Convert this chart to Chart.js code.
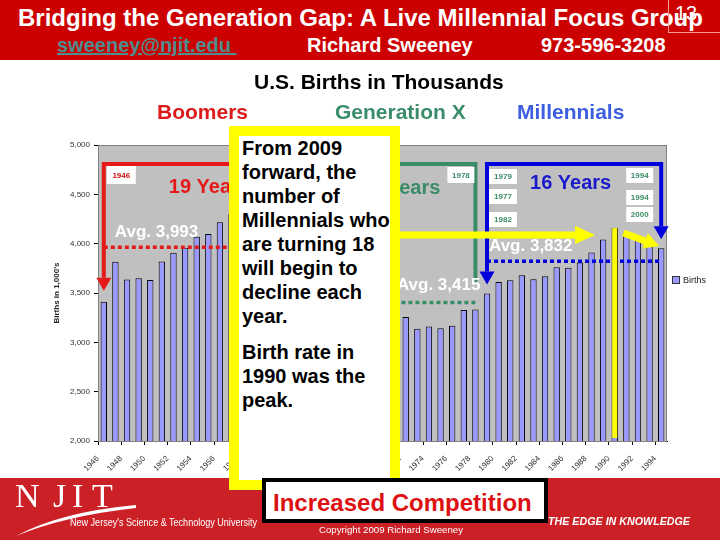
<!DOCTYPE html>
<html>
<head>
<meta charset="utf-8">
<script src="https://cdn.jsdelivr.net/npm/chart.js@4.4.1/dist/chart.umd.min.js"></script>
<style>
  body { margin: 0; background: #fff; font-family: "Liberation Sans", Arial, sans-serif; }
  #slide { position: relative; width: 720px; height: 540px; overflow: hidden; }
  #chart { position: absolute; left: 0; top: 0; }
  .t { position: absolute; white-space: nowrap; line-height: 1; }
  .b { font-weight: bold; }
  #header { position: absolute; left: 0; top: 0; width: 720px; height: 60px; background: #cc0000; }
  #footer { position: absolute; left: 0; top: 478px; width: 720px; height: 62px; background: #cc2027; }
  #note { position: absolute; left: 229px; top: 126px; width: 171px; height: 364px; box-sizing: border-box;
          border: 10px solid #ffff00; background: #fff; font-weight: bold; font-size: 20px; line-height: 24px;
          padding-left: 3px; white-space: nowrap; color: #000; }
  #note p { margin: 0; }
  #note p + p { margin-top: 12px; }
  #compete { position: absolute; left: 262px; top: 478px; width: 286px; height: 45px; box-sizing: border-box;
             border: 4px solid #000; background: #fff; }
</style>
</head>
<body>
<div id="slide">
  <canvas id="chart" width="720" height="540"></canvas>

  <div id="header">
    <div class="t b" style="left:18px; top:6px; font-size:24px; color:#fff;">Bridging the Generation Gap: A Live Millennial Focus Group</div>
    <div class="t b" style="left:57px; top:35px; font-size:20px; color:#4f8c8c; text-decoration:underline;">sweeney@njit.edu&nbsp;</div>
    <div class="t b" style="left:307px; top:35px; font-size:20px; color:#fff;">Richard Sweeney</div>
    <div class="t b" style="left:541px; top:35px; font-size:20px; color:#fff;">973-596-3208</div>
    <div style="position:absolute; left:668px; top:-1px; width:60px; height:32px; border:1px solid #ff9a9a;"></div>
    <div class="t" style="left:675px; top:3px; font-size:20px; color:#fff;">13</div>
  </div>

  <div class="t b" style="left:254px; top:71px; font-size:21px; color:#000;">U.S. Births in Thousands</div>
  <div class="t b" style="left:157px; top:101px; font-size:21px; color:#dd1a1a;">Boomers</div>
  <div class="t b" style="left:335px; top:101px; font-size:21px; color:#3a8c6a;">Generation X</div>
  <div class="t b" style="left:517px; top:101px; font-size:21px; color:#3d5ee0;">Millennials</div>

  <div id="footer">
    <div class="t" style="left:15px; top:1px; font-family:'Liberation Serif',serif; font-size:34px; color:#fff;">N</div>
    <div class="t" style="left:53px; top:1px; font-family:'Liberation Serif',serif; font-size:34px; color:#fff;">J</div>
    <div class="t" style="left:72px; top:1px; font-family:'Liberation Serif',serif; font-size:34px; color:#fff;">I</div>
    <div class="t" style="left:92px; top:1px; font-family:'Liberation Serif',serif; font-size:34px; color:#fff;">T</div>
    <svg style="position:absolute; left:0; top:0;" width="160" height="62">
      <path d="M16 58 Q60 34 136 27 L136 30 Q64 38 16 58 Z" fill="#fff"/>
    </svg>
    <div class="t fit" data-w="187" style="left:70px; top:40px; font-size:10px; color:#fff;">New Jersey's Science &amp; Technology University</div>
    <div class="t b fit" data-w="142" style="left:548px; top:38px; font-size:11px; font-style:italic; color:#fff;">THE EDGE IN KNOWLEDGE</div>
    <div class="t fit" data-w="144" style="left:319px; top:48px; font-size:9px; color:#fff;">Copyright 2009 Richard Sweeney</div>
  </div>

  <div id="note">
    <p>From 2009<br>forward, the<br>number of<br>Millennials who<br>are turning 18<br>will begin to<br>decline each<br>year.</p>
    <p>Birth rate in<br>1990 was the<br>peak.</p>
  </div>

  <div id="compete">
    <div class="t b" style="left:7px; top:9px; font-size:24px; color:#dd1111;">Increased Competition</div>
  </div>
</div>

<script>
// years on the category axis
const years = ['1946','1947','1948','1949','1950','1951','1952','1953','1954','1955',
  '1956','1957','1958','1959','1960','1961','1962','1963','1964','1965',
  '1966','1967','1968','1969','1970','1971','1972','1973','1974','1975',
  '1976','1977','1978','1979','1980','1981','1982','1983','1984','1985',
  '1986','1987','1988','1989','1990','1991','1992','1993','1994'];
// births in thousands
const births = [3411, 3817, 3637, 3649, 3632, 3820, 3909, 3959, 4071, 4097,
  4218, 4300, 4255, 4245, 4258, 4268, 4167, 4098, 4027, 3760,
  3606, 3521, 3502, 3600, 3731, 3556, 3258, 3137, 3160, 3144,
  3168, 3327, 3333, 3494, 3612, 3629, 3681, 3639, 3669, 3761,
  3757, 3809, 3910, 4041, 4158, 4111, 4065, 4000, 3953];
const tickLabels = ['1946','1948','1950','1952','1954','1956','1958','1960','1962','1964','1966',
  '1968','1970','1972','1974','1976','1978','1980','1982','1984','1986','1988','1990','1992','1994'];
const yMin = 2000, yMax = 5000, yStep = 500;

// generations
const genSpans = [['1946','1964'], ['1965','1978'], ['1979','1994']];
const genYears = ['19 Years', '14 Years', '16 Years'];
const genAvgs = [3993, 3415, 3832];
const genAvgText = ['Avg. 3,993', 'Avg. 3,415', 'Avg. 3,832'];
const boomLabels = ['1946'];
const genXLabels = ['1978'];
const milStartLabels = ['1979', '1977', '1982'];
const milEndLabels = ['1994', '1994', '2000'];
const peakYear = '1990';

const RED = '#e61919', GREEN = '#3a8c66', BLUE = '#0000dd', YEL = '#ffff00';

Chart.defaults.font.family = '"Liberation Sans", Arial, sans-serif';

function arrow(ctx, x0, y0, x1, y1, color, w, headW, headL) {
  const ang = Math.atan2(y1 - y0, x1 - x0);
  const bx = x1 - Math.cos(ang) * headL, by = y1 - Math.sin(ang) * headL;
  ctx.strokeStyle = color; ctx.lineWidth = w; ctx.lineCap = 'butt';
  ctx.beginPath(); ctx.moveTo(x0, y0); ctx.lineTo(bx, by); ctx.stroke();
  const nx = -Math.sin(ang) * headW / 2, ny = Math.cos(ang) * headW / 2;
  ctx.fillStyle = color;
  ctx.beginPath(); ctx.moveTo(bx + nx, by + ny); ctx.lineTo(bx - nx, by - ny); ctx.lineTo(x1, y1); ctx.closePath(); ctx.fill();
}

function yearBox(ctx, x, y, w, h, text, color) {
  ctx.fillStyle = '#fff';
  ctx.fillRect(x, y, w, h);
  ctx.fillStyle = color;
  ctx.font = 'bold 8px "Liberation Sans", Arial, sans-serif';
  ctx.textAlign = 'center'; ctx.textBaseline = 'middle';
  ctx.fillText(text, x + w / 2, y + h / 2 + 0.5);
}

const annotations = {
  id: 'annotations',
  beforeDatasetsDraw(c) {
    const a = c.chartArea, ctx = c.ctx;
    ctx.save();
    ctx.fillStyle = '#c0c0c0';
    ctx.fillRect(a.left, a.top, a.right - a.left, a.bottom - a.top);
    ctx.strokeStyle = '#808080'; ctx.lineWidth = 1;
    ctx.strokeRect(a.left + 0.5, a.top + 0.5, a.right - a.left - 1, a.bottom - a.top);
    ctx.restore();
  },
  afterDatasetsDraw(c) {
    const ctx = c.ctx, a = c.chartArea, xs = c.scales.x, ys = c.scales.y;
    const X = yr => xs.getPixelForValue(years.indexOf(yr));
    const V = yr => births[years.indexOf(yr)];
    const T = a.top + 19;
    const colors = [RED, GREEN, BLUE];
    ctx.save();

    // brackets
    genSpans.forEach((s, i) => {
      const x0 = X(s[0]), x1 = X(s[1]);
      ctx.strokeStyle = colors[i]; ctx.lineWidth = 4; ctx.lineJoin = 'miter';
      ctx.beginPath(); ctx.moveTo(x0, T); ctx.lineTo(x1, T); ctx.stroke();
    });
    arrow(ctx, X('1946'), T - 2, X('1946'), ys.getPixelForValue(V('1946')) - 11, RED, 4, 15, 13);
    ctx.strokeStyle = GREEN; ctx.lineWidth = 4;
    ctx.beginPath(); ctx.moveTo(X('1978'), T - 2); ctx.lineTo(X('1978'), a.top + 137); ctx.stroke();
    arrow(ctx, X('1979'), T - 2, X('1979'), ys.getPixelForValue(V('1979')) - 9, BLUE, 4, 15, 13);
    arrow(ctx, X('1994'), T - 2, X('1994'), ys.getPixelForValue(V('1994')) - 9, BLUE, 4, 15, 13);

    // averages
    genSpans.forEach((s, i) => {
      const y = ys.getPixelForValue(genAvgs[i]) + (i === 0 ? 3 : 1);
      ctx.strokeStyle = colors[i]; ctx.lineWidth = 3.5; ctx.setLineDash([4, 3]);
      ctx.beginPath(); ctx.moveTo(X(s[0]), y); ctx.lineTo(X(s[1]), y); ctx.stroke();
      ctx.setLineDash([]);
      ctx.fillStyle = '#fff';
      ctx.font = 'bold 17px "Liberation Sans", Arial, sans-serif';
      ctx.textBaseline = 'middle';
      if (i === 1) { ctx.textAlign = 'right'; ctx.fillText(genAvgText[i], X(s[1]) + 5, y - 17); }
      else { ctx.textAlign = 'left'; ctx.fillText(genAvgText[i], X(s[0]) + (i === 0 ? 11 : 2), y - 15); }
    });

    // year spans
    ctx.font = 'bold 20px "Liberation Sans", Arial, sans-serif';
    ctx.textBaseline = 'middle';
    ctx.fillStyle = RED; ctx.textAlign = 'left';
    ctx.fillText(genYears[0], X('1946') + 65, a.top + 42);
    ctx.fillStyle = GREEN; ctx.textAlign = 'right';
    ctx.fillText(genYears[1], X('1978') - 35, a.top + 43);
    ctx.fillStyle = '#1a1acc'; ctx.textAlign = 'left';
    ctx.fillText(genYears[2], X('1979') + 43, a.top + 38);

    // year boxes
    boomLabels.forEach(t => yearBox(ctx, X('1946') + 3, a.top + 21, 29, 18, t, '#cc1111'));
    genXLabels.forEach(t => yearBox(ctx, X('1978') - 28, a.top + 22, 27, 16, t, GREEN));
    const ms = [24, 44, 67], me = [23, 45, 62];
    milStartLabels.forEach((t, i) => yearBox(ctx, X('1979') + 2, a.top + ms[i], 28, 15, t, GREEN));
    milEndLabels.forEach((t, i) => yearBox(ctx, X('1994') - 35, a.top + me[i], 27, 15, t, GREEN));

    // yellow highlights
    const px = X(peakYear);
    ctx.fillStyle = YEL;
    ctx.fillRect(px - 2.5, ys.getPixelForValue(V(peakYear)), 5, a.bottom - 3 - ys.getPixelForValue(V(peakYear)));
    arrow(ctx, X('1965'), a.top + 90, X('1989') - 8, a.top + 90, YEL, 7, 18, 20);
    arrow(ctx, X('1991') - 3, a.top + 88, X('1994') - 2, a.top + 101, YEL, 7, 16, 15);

    // legend
    const ds = c.data.datasets[0];
    ctx.fillStyle = ds.backgroundColor; ctx.strokeStyle = '#333'; ctx.lineWidth = 1;
    ctx.fillRect(672.5, 276.5, 7, 7); ctx.strokeRect(672.5, 276.5, 7, 7);
    ctx.fillStyle = '#222'; ctx.font = '9px "Liberation Sans", Arial, sans-serif';
    ctx.textAlign = 'left'; ctx.textBaseline = 'middle';
    ctx.fillText(ds.label, 683, 280.5);
    ctx.restore();
  }
};

new Chart(document.getElementById('chart'), {
  type: 'bar',
  data: {
    labels: years,
    datasets: [{
      label: 'Births',
      data: births,
      backgroundColor: '#9999ff',
      borderColor: '#000',
      borderWidth: 1,
      barPercentage: 0.55,
      categoryPercentage: 1
    }]
  },
  options: {
    responsive: false,
    animation: false,
    layout: { padding: { top: 145, right: 53, bottom: 59, left: 0 } },
    plugins: { legend: { display: false }, tooltip: { enabled: false } },
    scales: {
      x: {
        grid: {
          drawOnChartArea: false, tickLength: 4,
          color: ctx => (ctx.index % 2 === 0 ? '#000' : 'rgba(0,0,0,0)')
        },
        border: { color: '#000' },
        ticks: {
          autoSkip: false, minRotation: 45, maxRotation: 45, padding: 9, labelOffset: -6,
          font: { size: 8 }, color: '#333',
          callback: (v, i) => (tickLabels.includes(years[i]) ? years[i] : '')
        },
        afterFit(s) { s.height = 40; }
      },
      y: {
        min: yMin, max: yMax,
        grid: { drawOnChartArea: false, tickLength: 4, color: '#000' },
        border: { color: '#000' },
        ticks: { stepSize: yStep, padding: 4, font: { size: 8 }, color: '#333',
                 callback: v => v.toLocaleString('en-US') },
        title: { display: true, text: "Births in 1,000's", font: { size: 8, weight: 'bold' }, color: '#222',
                 padding: { top: 52, bottom: 0 } },
        afterFit(s) { s.width = 98; }
      }
    }
  },
  plugins: [annotations]
});

document.querySelectorAll('.fit').forEach(el => {
  el.style.display = 'inline-block';
  const w = el.getBoundingClientRect().width;
  el.style.transformOrigin = 'left center';
  el.style.transform = 'scaleX(' + (+el.dataset.w / w) + ')';
});
</script>
</body>
</html>
